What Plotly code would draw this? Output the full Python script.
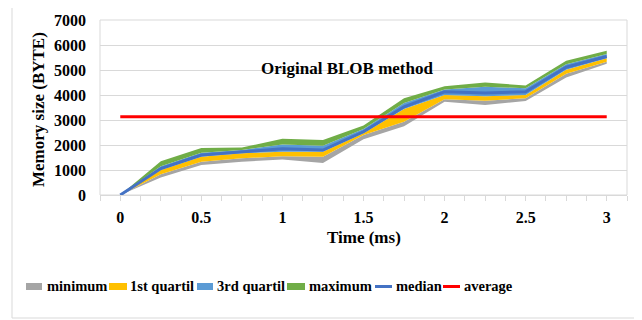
import plotly.graph_objects as go

# ---- data ----
time_ms = [0, 0.25, 0.5, 0.75, 1, 1.25, 1.5, 1.75, 2, 2.25, 2.5, 2.75, 3]
x_tick_labels = ["0", "0.5", "1", "1.5", "2", "2.5", "3"]
x_tick_values = [0, 0.5, 1, 1.5, 2, 2.5, 3]
y_tick_values = [0, 1000, 2000, 3000, 4000, 5000, 6000, 7000]

band_base = [0, 700, 1200, 1330, 1420, 1280, 2230, 2750, 3730, 3600, 3760, 4700, 5250]
minimum_top = [0, 830, 1330, 1470, 1550, 1530, 2400, 2930, 3830, 3770, 3870, 4850, 5330]
quartile1_top = [0, 1000, 1530, 1670, 1730, 1730, 2470, 3440, 4000, 3950, 4000, 5010, 5470]
quartile3_top = [0, 1150, 1690, 1800, 2020, 1970, 2640, 3680, 4220, 4330, 4270, 5230, 5640]
maximum_top = [0, 1350, 1880, 1900, 2250, 2200, 2780, 3870, 4350, 4500, 4380, 5370, 5770]
median = [0, 1060, 1600, 1730, 1850, 1800, 2530, 3530, 4130, 4080, 4130, 5110, 5540]
average = 3130

series_names = ["minimum", "1st quartil", "3rd quartil", "maximum", "median", "average"]
series_colors = ["#A5A5A5", "#FFC000", "#5B9BD5", "#70AD47", "#4472C4", "#FF0000"]

FONT = "Liberation Serif"
OFF = 8  # page body margin of the HTML output
W, H = 642 - OFF, 320 - OFF
L, R, T, B = 100 - OFF, 15, 20 - OFF, 125
PW, PH = W - L - R, H - T - B


def px_x(p):
    """reference-picture pixel x -> paper fraction"""
    return (p - OFF - L) / PW


def px_y(p):
    """reference-picture pixel y -> paper fraction"""
    return (H - B - (p - OFF)) / PH


fig = go.Figure()

# invisible base of the band stack
fig.add_trace(go.Scatter(x=time_ms, y=band_base, mode="lines",
                         line=dict(width=0), showlegend=False, hoverinfo="skip"))
for name, vals, col in zip(series_names[:4],
                           [minimum_top, quartile1_top, quartile3_top, maximum_top],
                           series_colors[:4]):
    fig.add_trace(go.Scatter(x=time_ms, y=vals, mode="lines", name=name,
                             line=dict(width=0, color=col), fill="tonexty",
                             fillcolor=col, showlegend=False))

fig.add_trace(go.Scatter(x=time_ms, y=median, mode="lines", name="median",
                         line=dict(width=3, color=series_colors[4]), showlegend=False))
fig.add_trace(go.Scatter(x=[time_ms[0], time_ms[-1]], y=[average, average], mode="lines",
                         name="average", line=dict(width=3, color=series_colors[5]),
                         showlegend=False))

grid = "#D9D9D9"
fig.update_layout(
    width=W, height=H,
    margin=dict(l=L, r=R, t=T, b=B, autoexpand=False),
    paper_bgcolor="white", plot_bgcolor="white",
    showlegend=False,
    font=dict(family=FONT, color="black"),
    xaxis=dict(range=[-0.125, 3.125], tickvals=x_tick_values, ticktext=x_tick_labels,
               showgrid=False, zeroline=False, showline=True, linecolor=grid, linewidth=1,
               ticks="outside", ticklen=5, tickcolor=grid, ticklabelstandoff=3,
               tickfont=dict(family=FONT, size=16, weight="bold", color="black"),
               minor=dict(dtick=0.125, tick0=0, ticks="outside", ticklen=5, tickcolor=grid,
                          showgrid=False)),
    yaxis=dict(range=[0, 7000], tickvals=y_tick_values, showgrid=True, gridcolor=grid,
               gridwidth=1, zeroline=False, showline=False, ticks="",
               ticklabelstandoff=13,
               tickfont=dict(family=FONT, size=16, weight="bold", color="black")),
)

# plot-area border and chart border
fig.add_shape(type="rect", xref="paper", yref="paper", x0=0, x1=1, y0=0, y1=1,
              line=dict(color=grid, width=1), layer="below")
fig.add_shape(type="rect", xref="paper", yref="paper",
              x0=px_x(12), x1=px_x(635), y0=px_y(318), y1=px_y(4),
              line=dict(color=grid, width=1))

# titles
fig.add_annotation(x=1.4, y=5070, xref="x", yref="y", text="Original BLOB method",
                   xanchor="center", yanchor="middle", showarrow=False,
                   font=dict(family=FONT, size=17, weight="bold", color="black"))
fig.add_annotation(x=px_x(39), y=px_y(110), xref="paper", yref="paper",
                   text="Memory size (BYTE)", textangle=-90, showarrow=False,
                   xanchor="center", yanchor="middle",
                   font=dict(family=FONT, size=17, weight="bold", color="black"))
fig.add_annotation(x=0.5, y=px_y(237), xref="paper", yref="paper", text="Time (ms)",
                   xanchor="center", yanchor="middle", showarrow=False,
                   font=dict(family=FONT, size=17, weight="bold", color="black"))

# legend (manual, to match the compact Excel layout)
legend_items = [(26, 42, 45, "rect"), (109, 127, 128, "rect"), (197, 213, 215, "rect"),
                (287, 305, 307, "rect"), (375, 392, 394, "line"), (443, 460, 462, "line")]
for (sx0, sx1, tx, kind), name, col in zip(legend_items, series_names, series_colors):
    if kind == "rect":
        fig.add_shape(type="rect", xref="paper", yref="paper",
                      x0=px_x(sx0), x1=px_x(sx1), y0=px_y(290), y1=px_y(283),
                      fillcolor=col, line=dict(width=0))
    else:
        fig.add_shape(type="line", xref="paper", yref="paper",
                      x0=px_x(sx0), x1=px_x(sx1), y0=px_y(286.5), y1=px_y(286.5),
                      line=dict(color=col, width=3))
    fig.add_annotation(x=px_x(tx), y=px_y(286), xref="paper", yref="paper", text=name,
                       xanchor="left", yanchor="middle", showarrow=False,
                       font=dict(family=FONT, size=14.5, weight="bold", color="black"))

fig.write_html("out.html")
